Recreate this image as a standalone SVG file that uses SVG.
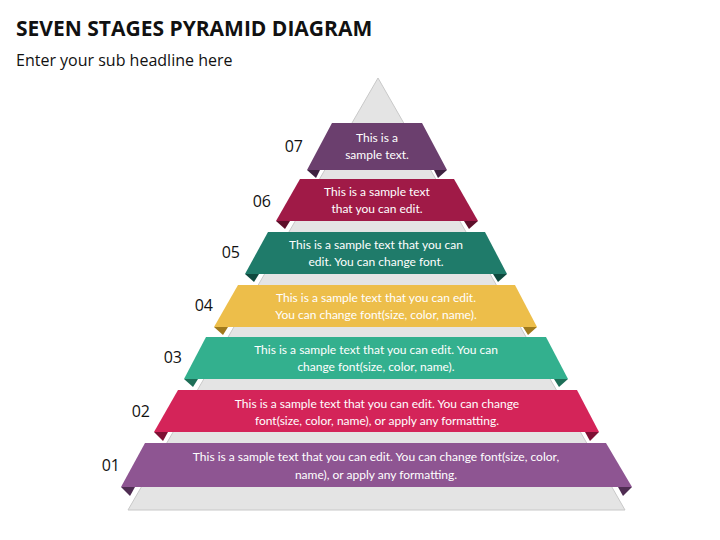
<svg xmlns="http://www.w3.org/2000/svg" width="720" height="540" viewBox="0 0 720 540">
<style>
.t{font-family:Lato,"Open Sans",sans-serif;font-size:12px;fill:#fff;text-anchor:middle}
.n{font-family:"Open Sans",sans-serif;font-size:16px;fill:#111;text-anchor:end}
</style>
<rect width="720" height="540" fill="#fff"/>
<text x="16" y="36" font-family="'Open Sans',sans-serif" font-weight="bold" font-size="21" fill="#111">SEVEN STAGES PYRAMID DIAGRAM</text>
<text x="16" y="66" font-family="'Open Sans',sans-serif" font-size="16" fill="#111">Enter your sub headline here</text>
<polygon id="base" points="378,78 128,510 625,510" fill="#e4e4e4" stroke="#c8c8c8"/>
<g id="s7"><polygon points="320,170 307,170 316,178" fill="#3f2240"/><polygon points="434,170 447,170 438,178" fill="#3f2240"/><polygon points="332,123 422,123 447,170 307,170" fill="#6b3f6e"/><text class="t" x="377" y="142">This is a</text><text class="t" x="377" y="159">sample text.</text><text class="n" x="303" y="152">07</text></g>
<g id="s6"><polygon points="290,221 276,221 285,229" fill="#5e0f2a"/><polygon points="464,221 478,221 469,229" fill="#5e0f2a"/><polygon points="300,179 454,179 478,221 276,221" fill="#a01a47"/><text class="t" x="377" y="196">This is a sample text</text><text class="t" x="377" y="213">that you can edit.</text><text class="n" x="271" y="207">06</text></g>
<g id="s5"><polygon points="259,274 245,274 254,282" fill="#0f4a3f"/><polygon points="493,274 507,274 498,282" fill="#0f4a3f"/><polygon points="268,232 485,232 507,274 245,274" fill="#1f7b6a"/><text class="t" x="376" y="249">This is a sample text that you can</text><text class="t" x="376" y="266">edit. You can change font.</text><text class="n" x="240" y="258">05</text></g>
<g id="s4"><polygon points="228,327 214,327 223,335" fill="#a07a1c"/><polygon points="523,327 537,327 528,335" fill="#a07a1c"/><polygon points="238,285 515,285 537,327 214,327" fill="#edbe4a"/><text class="t" x="376" y="302">This is a sample text that you can edit.</text><text class="t" x="376" y="319">You can change font(size, color, name).</text><text class="n" x="213" y="311">04</text></g>
<g id="s3"><polygon points="198,379 184,379 193,387" fill="#1d6e57"/><polygon points="554,379 568,379 559,387" fill="#1d6e57"/><polygon points="206,337 546,337 568,379 184,379" fill="#33b08e"/><text class="t" x="376" y="354">This is a sample text that you can edit. You can</text><text class="t" x="376" y="371">change font(size, color, name).</text><text class="n" x="182" y="363">03</text></g>
<g id="s2"><polygon points="168,432 154,432 163,441" fill="#7e1034"/><polygon points="585,432 599,432 590,441" fill="#7e1034"/><polygon points="178,390 577,390 599,432 154,432" fill="#d42459"/><text class="t" x="377" y="408">This is a sample text that you can edit. You can change</text><text class="t" x="377" y="425">font(size, color, name), or apply any formatting.</text><text class="n" x="150" y="417">02</text></g>
<g id="s1"><polygon points="135,487 121,487 130,496" fill="#4f2c52"/><polygon points="618,487 632,487 623,496" fill="#4f2c52"/><polygon points="145,443 606,443 632,487 121,487" fill="#8e5592"/><text class="t" x="376" y="461">This is a sample text that you can edit. You can change font(size, color,</text><text class="t" x="376" y="479">name), or apply any formatting.</text><text class="n" x="120" y="471">01</text></g>
<g id="connectors"/>
</svg>
